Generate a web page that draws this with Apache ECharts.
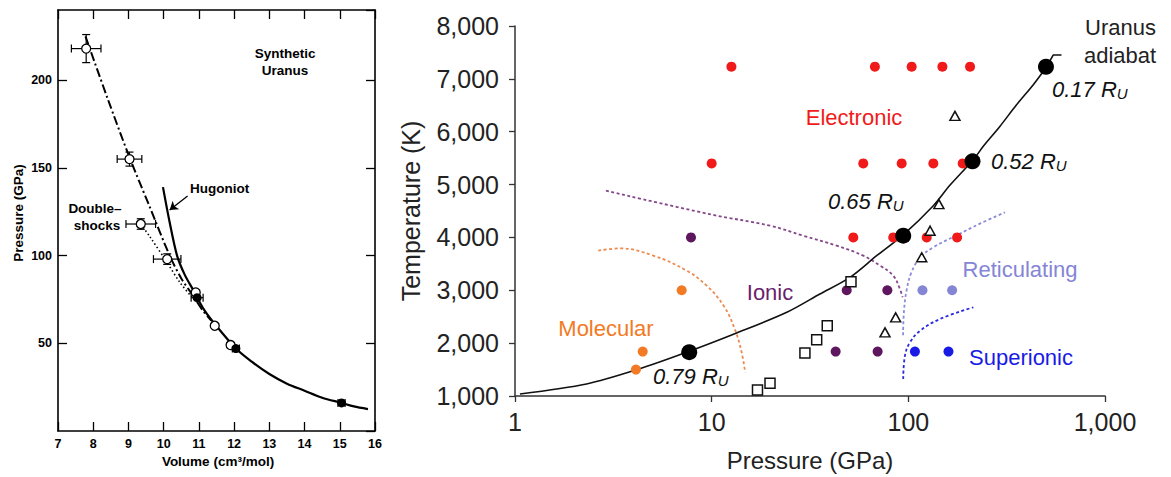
<!DOCTYPE html>
<html><head><meta charset="utf-8">
<script src="https://cdn.jsdelivr.net/npm/echarts@6/dist/echarts.min.js"></script>
<style>html,body{margin:0;padding:0;background:#fff;}#c{width:1171px;height:477px;}</style>
</head><body><div id="c"></div>
<script>
// ===== Left panel: Synthetic Uranus (Volume cm3/mol vs Pressure GPa) =====
// [volume, pressure, volumeErr, pressureErr]
const openPoints = [[7.8,218,0.42,8],[9.03,155,0.35,4],[9.35,118,0.42,3],[10.1,98,0.39,3],[10.91,79,0,0],[11.45,60,0,0],[11.9,49,0,0]];
const filledPoints = [[10.95,76,0.17,0],[12.05,47,0.1,0],[15.05,16,0.1,0]];
const hugoniot = [[9.98,139],[10.16,120],[10.38,100],[10.6,89],[10.85,80],[11.15,69],[11.45,61],[12.05,47],[12.5,39.5],[13,32.5],[13.5,27],[14,23],[14.5,19],[15.05,16],[15.4,14],[15.8,12.5]];
const doubleShockDashDot = [[7.78,225],[8.4,190],[9.03,156],[9.6,128],[10.17,100],[10.5,87],[10.82,77.5],[11.1,69],[11.35,63]];
const doubleShockDotted = [[9.35,118],[9.6,111],[10.1,96],[10.45,85],[10.82,76],[11.0,73]];
const hugoniotArrow = [[10.68,134],[10.17,126]];

// ===== Right panel: water phase diagram (Pressure GPa vs Temperature K) =====
const electronic = [[12.6,7230],[67.6,7230],[104,7230],[149,7230],[206,7230],[10,5400],[59,5400],[92.5,5400],[134,5400],[189,5400],[52.5,4000],[83.8,4000],[124,4000],[177,4000]];
const ionic = [[7.85,4000],[48.6,3000],[78.2,3000],[42.7,1840],[69.8,1840]];
const reticulating = [[118,3000],[167,3000]];
const superionic = [[108,1840],[160,1840]];
const molecular = [[7.04,3000],[4.46,1840],[4.12,1500]];
const openSquares = [[17.1,1113],[19.8,1240],[29.8,1813],[34.2,2065],[38.7,2330],[51.1,3162]];
const openTriangles = [[172.6,6300],[143,4630],[129,4127],[117,3624],[86.2,2488],[76.1,2204]];
const adiabat = [[1.06,1038],[2.31,1227],[4.16,1497],[7.45,1827],[13.4,2192],[24.1,2584],[35.5,2930],[50.5,3245],[69,3654],[94.2,4050],[134,4600],[163,4990],[214,5470],[240,5720],[292,6100],[355,6510],[432,6890],[485,7140],[505,7230]];
const adiabatHook = [[505,7230],[545,7450],[601,7450]];
const adiabatPoints = [[7.69,1830],[94.2,4033],[212,5440],[501,7230]];
const adiabatRadii = ['0.79','0.65','0.52','0.17'];
const ionicBoundary = [[2.9,4884],[10,4432],[19.8,4222],[29.2,4033],[43.2,3844],[59,3655],[71.8,3466],[83.8,3277],[90.6,3024],[93.5,2870]];
const molecularBoundary = [[2.65,3749],[3.42,3794],[5.05,3655],[7.46,3371],[9.43,3087],[11.5,2709],[13.1,2268],[14.2,1827],[14.8,1448]];
const reticulatingBoundary = [[94,2150],[95,2600],[98,3000],[104,3350],[115,3620],[135,3820],[176,4040],[231,4260],[310,4474]];
const superionicBoundary = [[94.2,1322],[96.1,1762],[102,2016],[115,2236],[145,2457],[214,2678]];

const FONT = "'Liberation Sans', Arial, Helvetica, sans-serif";
const C = {electronic:'#f01a1a', ionic:'#5e165e', molecular:'#f27a24', retic:'#8585d6', super:'#1a1ae6'};

function errRender(params, api) {
  const x = api.value(0), y = api.value(1), ex = api.value(2), ey = api.value(3);
  const ch = [];
  const st = {stroke:'#000', lineWidth:1.2};
  if (ex > 0) {
    const l = api.coord([x - ex, y]), r = api.coord([x + ex, y]);
    ch.push({type:'line', shape:{x1:l[0],y1:l[1],x2:r[0],y2:r[1]}, style:st});
    ch.push({type:'line', shape:{x1:l[0],y1:l[1]-4,x2:l[0],y2:l[1]+4}, style:st});
    ch.push({type:'line', shape:{x1:r[0],y1:r[1]-4,x2:r[0],y2:r[1]+4}, style:st});
  }
  if (ey > 0) {
    const t = api.coord([x, y + ey]), b = api.coord([x, y - ey]);
    ch.push({type:'line', shape:{x1:t[0],y1:t[1],x2:b[0],y2:b[1]}, style:st});
    ch.push({type:'line', shape:{x1:t[0]-4,y1:t[1],x2:t[0]+4,y2:t[1]}, style:st});
    ch.push({type:'line', shape:{x1:b[0]-4,y1:b[1],x2:b[0]+4,y2:b[1]}, style:st});
  }
  return {type:'group', children:ch};
}

function txt(x, y, text, o) {
  o = o || {};
  const align = o.align || 'center';
  return {type:'text', x:x, y:y, rotation:o.rotation || 0, z:50,
    style:{text:text, fill:o.color || '#222', font:(o.style||'') + ' ' + (o.weight||'normal') + ' ' + (o.size||22) + 'px ' + FONT,
      align:align, textAlign:align, verticalAlign:'middle', textVerticalAlign:'middle'}};
}
function rLabel(x, y, r) {
  return {type:'text', x:x, y:y, z:50,
    style:{text:'{a|' + r + ' R}{s|U}', align:'left', textAlign:'left', verticalAlign:'middle', textVerticalAlign:'middle',
      rich:{a:{fontSize:22, fontStyle:'italic', fontFamily:FONT, fill:'#111', color:'#111', padding:[0,0,7,0]},
            s:{fontSize:15, fontStyle:'italic', fontFamily:FONT, fill:'#111', color:'#111'}}}};
}

const leftAxisCommon = {
  axisLine:{show:true, onZero:false, lineStyle:{color:'#000', width:1.6}},
  axisTick:{show:true, inside:true, length:9, lineStyle:{color:'#000', width:1.3}},
  splitLine:{show:false}
};
const leftLbl = {fontFamily:FONT, fontWeight:'bold', fontSize:12.5, color:'#000'};
const rightLbl = {fontFamily:FONT, fontSize:25, color:'#222'};
const fmt = v => Math.round(v).toLocaleString('en-US');
const solid = c => ({color:c, opacity:1});

const chart = echarts.init(document.getElementById('c'), null, {renderer:'svg'});
chart.setOption({
  backgroundColor:'#fff',
  animation:false,
  grid:[{left:58, top:10, width:317, height:421}, {left:515, top:26, width:590, height:371}],
  xAxis:[
    Object.assign({gridIndex:0, type:'value', min:7, max:16, interval:1, position:'bottom',
      axisLabel:Object.assign({margin:6}, leftLbl)}, leftAxisCommon),
    Object.assign({gridIndex:0, type:'value', min:7, max:16, interval:1, position:'top',
      axisLabel:{show:false}}, leftAxisCommon),
    {gridIndex:1, type:'log', logBase:10, min:1, max:1000, position:'bottom',
      axisLine:{show:true, onZero:false, lineStyle:{color:'#333', width:1.5}},
      axisTick:{show:true, length:6, lineStyle:{color:'#333', width:1.3}},
      minorTick:{show:false}, splitLine:{show:false},
      axisLabel:Object.assign({margin:13, formatter:fmt}, rightLbl),
      name:'Pressure (GPa)', nameLocation:'middle', nameGap:52,
      nameTextStyle:{fontFamily:FONT, fontSize:24, color:'#222'}}
  ],
  yAxis:[
    Object.assign({gridIndex:0, type:'value', min:0, max:240, interval:50, position:'left',
      axisLabel:Object.assign({margin:6, showMinLabel:false, showMaxLabel:false}, leftLbl)}, leftAxisCommon),
    Object.assign({gridIndex:0, type:'value', min:0, max:240, interval:50, position:'right',
      axisLabel:{show:false}}, leftAxisCommon),
    {gridIndex:1, type:'value', min:1000, max:8000, interval:1000, position:'left',
      axisLine:{show:true, onZero:false, lineStyle:{color:'#333', width:1.5}},
      axisTick:{show:true, length:6, lineStyle:{color:'#333', width:1.3}},
      splitLine:{show:false},
      axisLabel:Object.assign({margin:16, formatter:fmt}, rightLbl),
      name:'Temperature (K)', nameLocation:'middle', nameGap:92,
      nameTextStyle:{fontFamily:FONT, fontSize:25, color:'#222'}}
  ],
  series:[
    // ---- left panel ----
    {type:'line', xAxisIndex:0, yAxisIndex:0, data:hugoniot, smooth:0.3, showSymbol:false,
      lineStyle:{color:'#000', width:2.2}, z:3},
    {type:'line', xAxisIndex:0, yAxisIndex:0, data:doubleShockDashDot, smooth:0.3, showSymbol:false,
      lineStyle:{color:'#000', width:2, type:[9,3,2,3]}, z:3},
    {type:'line', xAxisIndex:0, yAxisIndex:0, data:doubleShockDotted, smooth:0.3, showSymbol:false,
      lineStyle:{color:'#000', width:1.6, type:[1.5,2.5]}, z:3},
    {type:'lines', coordinateSystem:'cartesian2d', xAxisIndex:0, yAxisIndex:0,
      data:[{coords:hugoniotArrow}], symbol:['none','arrow'], symbolSize:8,
      lineStyle:{color:'#000', width:1.3, opacity:1}, z:4},
    {type:'custom', xAxisIndex:0, yAxisIndex:0, data:openPoints.concat(filledPoints), renderItem:errRender, z:4},
    {type:'scatter', xAxisIndex:0, yAxisIndex:0, data:openPoints.map(p=>[p[0],p[1]]), symbol:'circle', symbolSize:9,
      itemStyle:{color:'#fff', borderColor:'#000', borderWidth:1.3, opacity:1}, z:6},
    {type:'scatter', xAxisIndex:0, yAxisIndex:0, data:filledPoints.map(p=>[p[0],p[1]]), symbol:'circle', symbolSize:9,
      itemStyle:solid('#000'), z:6},
    // ---- right panel ----
    {type:'line', xAxisIndex:2, yAxisIndex:2, data:ionicBoundary, smooth:0.4, showSymbol:false,
      lineStyle:{color:'#84488a', width:1.8, type:[3,2.5]}, z:2},
    {type:'line', xAxisIndex:2, yAxisIndex:2, data:molecularBoundary, smooth:0.4, showSymbol:false,
      lineStyle:{color:'#ec8a50', width:1.8, type:[3,2.5]}, z:2},
    {type:'line', xAxisIndex:2, yAxisIndex:2, data:reticulatingBoundary, smooth:0.4, showSymbol:false,
      lineStyle:{color:'#8c8cd8', width:1.8, type:[3,2.5]}, z:2},
    {type:'line', xAxisIndex:2, yAxisIndex:2, data:superionicBoundary, smooth:0.4, showSymbol:false,
      lineStyle:{color:'#2a2ae0', width:1.8, type:[3,2.5]}, z:2},
    {type:'line', xAxisIndex:2, yAxisIndex:2, data:adiabat, smooth:0.3, showSymbol:false,
      lineStyle:{color:'#111', width:1.6}, z:3},
    {type:'line', xAxisIndex:2, yAxisIndex:2, data:adiabatHook, smooth:false, showSymbol:false,
      lineStyle:{color:'#111', width:1.6}, z:3},
    {type:'scatter', xAxisIndex:2, yAxisIndex:2, data:electronic, symbolSize:10, itemStyle:solid(C.electronic), z:4},
    {type:'scatter', xAxisIndex:2, yAxisIndex:2, data:ionic, symbolSize:10, itemStyle:solid(C.ionic), z:4},
    {type:'scatter', xAxisIndex:2, yAxisIndex:2, data:reticulating, symbolSize:10, itemStyle:solid(C.retic), z:4},
    {type:'scatter', xAxisIndex:2, yAxisIndex:2, data:superionic, symbolSize:10, itemStyle:solid(C.super), z:4},
    {type:'scatter', xAxisIndex:2, yAxisIndex:2, data:molecular, symbolSize:10, itemStyle:solid(C.molecular), z:4},
    {type:'scatter', xAxisIndex:2, yAxisIndex:2, data:openSquares, symbol:'rect', symbolSize:10,
      itemStyle:{color:'#fff', borderColor:'#111', borderWidth:1.5, opacity:1}, z:5},
    {type:'scatter', xAxisIndex:2, yAxisIndex:2, data:openTriangles, symbol:'triangle', symbolSize:[10,9],
      itemStyle:{color:'#fff', borderColor:'#111', borderWidth:1.5, opacity:1}, z:5},
    {type:'scatter', xAxisIndex:2, yAxisIndex:2, data:adiabatPoints, symbolSize:16, itemStyle:solid('#000'), z:6}
  ],
  graphic:[
    // left panel texts
    txt(285, 53, 'Synthetic', {weight:'bold', size:13.5, color:'#000'}),
    txt(285, 70, 'Uranus', {weight:'bold', size:13.5, color:'#000'}),
    txt(190, 188, 'Hugoniot', {weight:'bold', size:13.5, color:'#000', align:'left'}),
    txt(95, 208, 'Double–', {weight:'bold', size:13.5, color:'#000'}),
    txt(97, 225, 'shocks', {weight:'bold', size:13.5, color:'#000'}),
    txt(218, 461, 'Volume (cm³/mol)', {weight:'bold', size:13.5, color:'#000'}),
    txt(18, 213, 'Pressure (GPa)', {weight:'bold', size:13.5, color:'#000', rotation:Math.PI/2}),
    // right panel texts
    txt(606, 328, 'Molecular', {color:C.molecular}),
    txt(770, 292, 'Ionic', {color:'#6a1f6e'}),
    txt(854, 117, 'Electronic', {color:C.electronic}),
    txt(1020, 269, 'Reticulating', {color:C.retic}),
    txt(1021, 357, 'Superionic', {color:C.super}),
    txt(1085, 27, 'Uranus', {align:'left', color:'#222'}),
    txt(1084, 55, 'adiabat', {align:'left', color:'#222'}),
    rLabel(653, 380, adiabatRadii[0]),
    rLabel(828, 205, adiabatRadii[1]),
    rLabel(991, 165, adiabatRadii[2]),
    rLabel(1052, 93, adiabatRadii[3])
  ]
});
</script></body></html>
